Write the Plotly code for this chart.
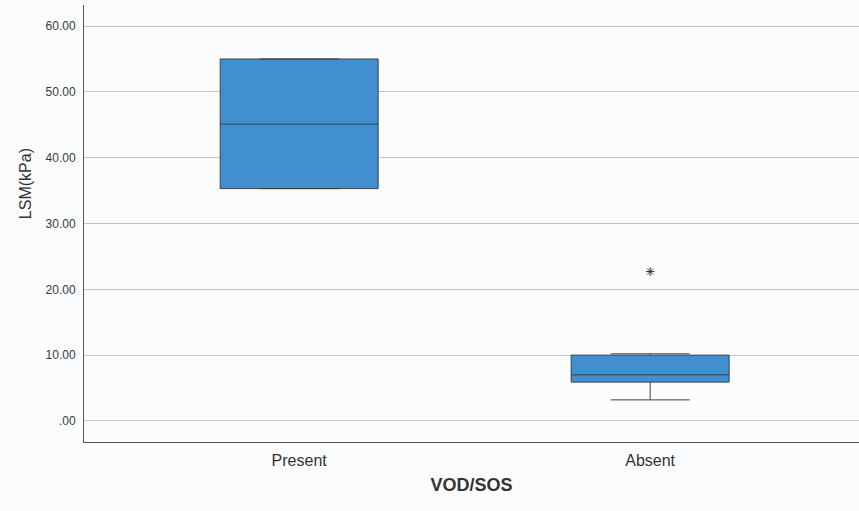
import plotly.graph_objects as go

# Group labels and box statistics for liver stiffness (kPa)
groups = ["Present", "Absent"]
q1 = [35.3, 5.9]
medians = [45.1, 7.0]
q3 = [55.0, 10.0]
lower_fence = [35.3, 3.2]
upper_fence = [55.0, 10.2]

# Extreme value flagged with an asterisk
outlier_group = ["Absent"]
outlier_value = [22.7]

# Y-axis tick labels
y_ticks = [0, 10, 20, 30, 40, 50, 60]
y_tick_text = [".00", "10.00", "20.00", "30.00", "40.00", "50.00", "60.00"]

fig = go.Figure()

fig.add_trace(go.Box(
    x=groups,
    q1=q1,
    median=medians,
    q3=q3,
    lowerfence=lower_fence,
    upperfence=upper_fence,
    fillcolor="#418fcf",
    line=dict(color="#3c3f44", width=1),
    whiskerwidth=0.5,
    width=0.45,
    boxpoints=False,
    showlegend=False,
    hoverinfo="skip",
))

fig.add_trace(go.Scatter(
    x=outlier_group,
    y=outlier_value,
    mode="markers",
    marker=dict(symbol="asterisk-open", size=7, color="#333333",
                line=dict(color="#333333", width=1)),
    showlegend=False,
    hoverinfo="skip",
))

# Vertical axis label, placed a little above the plot's mid-height
fig.add_annotation(
    text="LSM(kPa)",
    textangle=-90,
    xref="paper", yref="paper",
    x=0, y=0.59,
    xanchor="center", yanchor="middle",
    xshift=-59,
    showarrow=False,
    font=dict(size=16, color="#333333"),
)

fig.update_layout(
    width=859,
    height=511,
    margin=dict(l=84, r=0, t=5, b=69),
    paper_bgcolor="#fbfcfd",
    plot_bgcolor="#fbfcfd",
    font=dict(family="Liberation Sans, Arial, sans-serif", color="#333333"),
    xaxis=dict(
        type="category",
        range=[-0.613, 1.595],
        showgrid=False,
        showline=True,
        linecolor="#555555",
        linewidth=1,
        ticks="",
        ticklabelstandoff=4,
        tickfont=dict(size=16, color="#333333"),
        title=dict(text="<b>VOD/SOS</b>", font=dict(size=18, color="#333333"), standoff=10),
    ),
    yaxis=dict(
        range=[-3.2, 63.2],
        tickvals=y_ticks,
        ticktext=y_tick_text,
        showgrid=True,
        gridcolor="#c4c4c4",
        gridwidth=1,
        zeroline=False,
        showline=True,
        linecolor="#555555",
        linewidth=1,
        ticks="",
        ticklabelstandoff=5,
        tickfont=dict(size=12, color="#3a3a3a"),
    ),
)

fig.write_html("out.html")
